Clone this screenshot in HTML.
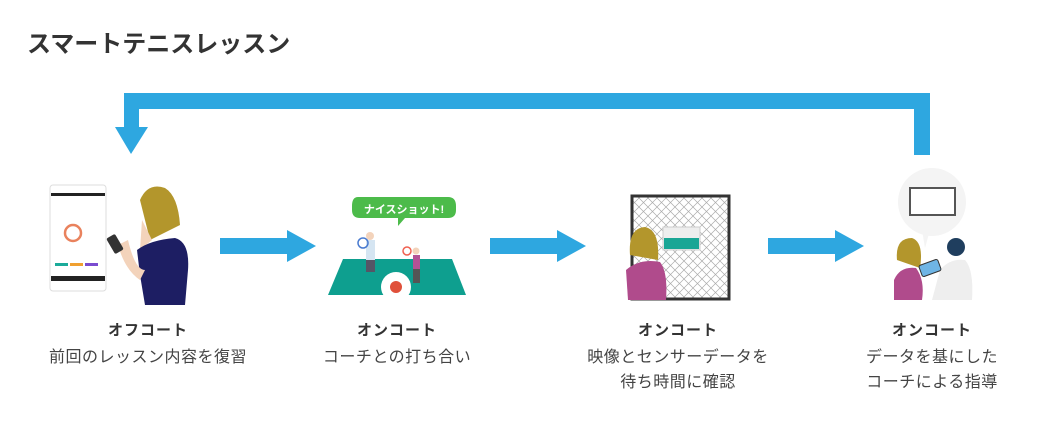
<!DOCTYPE html>
<html><head><meta charset="utf-8"><style>
html,body{margin:0;padding:0;background:#fff;}
body{width:1038px;height:437px;position:relative;overflow:hidden;font-family:"Liberation Sans","Noto Sans CJK JP",sans-serif;color:#333;}
.t{position:absolute;left:27px;top:24px;font-size:24px;font-weight:bold;letter-spacing:0px;color:#333;}
.lb{position:absolute;width:240px;text-align:center;font-size:15px;font-weight:bold;top:319px;color:#333;letter-spacing:1px;}
.ds{position:absolute;width:240px;text-align:center;font-size:16px;top:345px;line-height:25px;color:#444;letter-spacing:0.5px;}
svg{position:absolute;left:0;top:0;}
</style></head><body>
<div class="t">スマートテニスレッスン</div>
<svg width="1038" height="437" viewBox="0 0 1038 437">
<defs>
<pattern id="net" width="9" height="9" patternUnits="userSpaceOnUse">
<path d="M0 0L9 9M9 0L0 9" stroke="#aaa" stroke-width="0.7"/>
</pattern>
</defs>
<g fill="#2ea7e0">
<rect x="124" y="93" width="806" height="16"/>
<rect x="914" y="93" width="16" height="62"/>
<rect x="124" y="93" width="15" height="35"/>
<polygon points="115,127 148,127 131,154"/>
<rect x="220" y="238" width="68" height="16"/><polygon points="287,230 316,246 287,262"/>
<rect x="490" y="238" width="68" height="16"/><polygon points="557,230 586,246 557,262"/>
<rect x="768" y="238" width="68" height="16"/><polygon points="835,230 864,246 835,262"/>
</g>
<rect x="50" y="185" width="56" height="106" rx="3" fill="#fff" stroke="#ddd"/>
<rect x="51" y="193" width="54" height="3" fill="#222"/>
<rect x="51" y="276" width="54" height="5" fill="#222"/>
<circle cx="73" cy="233" r="8" fill="none" stroke="#e9825d" stroke-width="2.5"/>
<rect x="55" y="263" width="13" height="3" fill="#1bab9a"/><rect x="70" y="263" width="13" height="3" fill="#f0a030"/><rect x="85" y="263" width="13" height="3" fill="#7a4bd0"/>
<path d="M140 200 Q148 182 165 188 Q178 196 180 225 L150 240 Z" fill="#b3962c"/>
<path d="M142 220 L152 240 L140 250 Z" fill="#f3d3bb"/>
<path d="M137 250 Q150 240 175 238 Q190 242 188 270 L185 305 L145 305 L140 275 Z" fill="#1d1e63"/>
<path d="M118 245 L128 240 Q135 270 145 270 L140 280 Q125 270 118 245Z" fill="#f3d3bb"/>
<rect x="110" y="235" width="10" height="18" rx="2" fill="#333" transform="rotate(-30 115 244)"/>
<polygon points="343,259 452,259 466,295 328,295" fill="#0e9f8f"/>
<path d="M358 197 H448 Q456 197 456 206 V210 Q456 218 448 218 H405 L398 226 L398 218 H360 Q352 218 352 210 V206 Q352 197 358 197Z" fill="#4cbb4a"/>
<text x="404" y="213" text-anchor="middle" font-size="11" font-weight="bold" fill="#fff" font-family="Liberation Sans,Noto Sans CJK JP,sans-serif">ナイスショット!</text>
<rect x="366" y="240" width="9" height="20" fill="#d5e5f2"/><circle cx="370" cy="236" r="4" fill="#f3d3bb"/><rect x="366" y="260" width="9" height="12" fill="#556"/>
<circle cx="363" cy="243" r="5" fill="none" stroke="#4a7bd0" stroke-width="1.5"/>
<rect x="413" y="255" width="7" height="14" fill="#b45195"/><circle cx="416" cy="251" r="3.5" fill="#f3d3bb"/><rect x="413" y="269" width="7" height="14" fill="#555"/>
<circle cx="407" cy="251" r="4" fill="none" stroke="#f06050" stroke-width="1.5"/>
<circle cx="396" cy="287" r="15" fill="#fff"/><circle cx="396" cy="287" r="6" fill="#e0503a"/>
<rect x="632" y="196" width="97" height="103" fill="url(#net)" stroke="#333" stroke-width="3"/>
<rect x="663" y="227" width="37" height="23" fill="#eee" stroke="#ccc"/>
<rect x="664" y="238" width="35" height="11" fill="#1aa695"/>
<path d="M630 255 Q628 228 645 227 Q660 230 658 260 Z" fill="#b3962c"/>
<path d="M626 270 Q640 258 660 262 Q668 272 666 300 L628 300 Z" fill="#b04b8c"/>
<circle cx="932" cy="202" r="34" fill="#f4f4f4"/>
<polygon points="922,230 930,230 925,248" fill="#f4f4f4"/>
<rect x="910" y="188" width="45" height="27" fill="#fff" stroke="#555" stroke-width="2"/>
<path d="M897 260 Q895 238 912 238 Q924 242 920 268 Z" fill="#b3962c"/>
<path d="M894 280 Q900 266 916 268 Q925 280 922 300 L894 300 Z" fill="#b04b8c"/>
<circle cx="956" cy="247" r="9" fill="#1f3e5e"/>
<path d="M940 270 Q950 258 965 260 Q974 270 972 300 L932 300 Z" fill="#eee"/>
<rect x="920" y="262" width="20" height="12" rx="2" fill="#6fb5e5" stroke="#333" transform="rotate(-20 930 268)"/>
</svg>
<div class="lb" style="left:28px">オフコート</div>
<div class="ds" style="left:28px">前回のレッスン内容を復習</div>
<div class="lb" style="left:277px">オンコート</div>
<div class="ds" style="left:277px">コーチとの打ち合い</div>
<div class="lb" style="left:558px">オンコート</div>
<div class="ds" style="left:558px">映像とセンサーデータを<br>待ち時間に確認</div>
<div class="lb" style="left:812px">オンコート</div>
<div class="ds" style="left:812px">データを基にした<br>コーチによる指導</div>
</body></html>
